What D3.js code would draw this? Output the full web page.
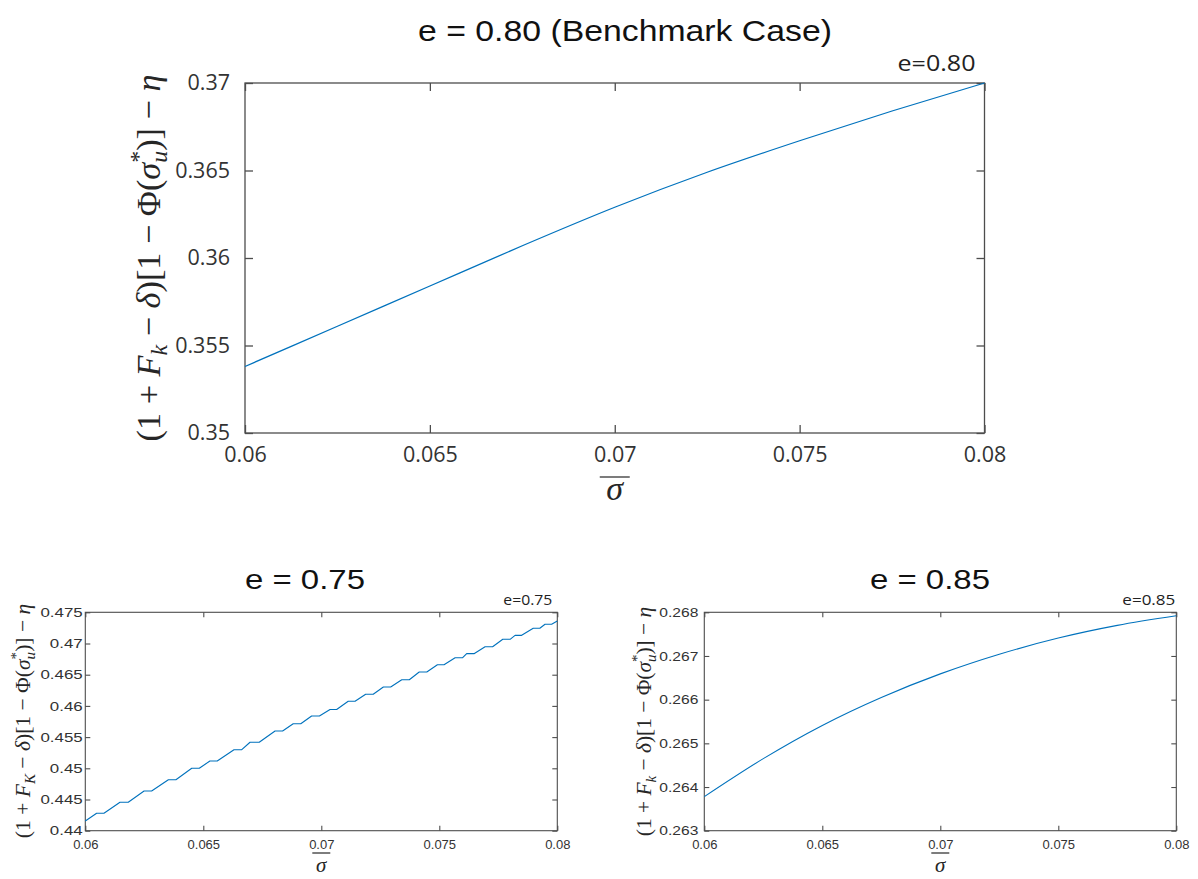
<!DOCTYPE html>
<html>
<head>
<meta charset="utf-8">
<script src="https://cdn.jsdelivr.net/npm/d3@7"></script>
<style>
  body { margin: 0; background: #fff; }
</style>
</head>
<body>
<svg id="fig" width="1198" height="879"></svg>
<script>
// ---- shared horizontal axis (sigma-bar) ----
const xTicks = [0.06, 0.065, 0.07, 0.075, 0.08];
const xTickLabels = ["0.06", "0.065", "0.07", "0.075", "0.08"];

// ---- e = 0.80 (benchmark) ----
const sigma80 = [0.06, 0.0625, 0.065, 0.0675, 0.07, 0.0725, 0.075, 0.0775, 0.08];
const value80 = [0.3538, 0.3561, 0.3584, 0.3607, 0.3629, 0.3649, 0.3667, 0.3684, 0.3700];
const yTicks80 = [0.35, 0.355, 0.36, 0.365, 0.37];
const yTickLabels80 = ["0.35", "0.355", "0.36", "0.365", "0.37"];

// ---- e = 0.75 : the value holds flat on [stepFrom, stepTo], then climbs to the next level ----
const start75 = [0.06, 0.44155];
const stepFrom75 = [0.06048, 0.06147, 0.06249, 0.06352, 0.06451, 0.06528, 0.06630, 0.06698, 0.06804,
                    0.06881, 0.06959, 0.07037, 0.07114, 0.07188, 0.07263, 0.07341, 0.07415, 0.07492,
                    0.07567, 0.07616, 0.07694, 0.07769, 0.07821, 0.07898, 0.07948];
const stepTo75   = [0.06079, 0.06182, 0.06281, 0.06384, 0.06483, 0.06559, 0.06663, 0.06737, 0.06836,
                    0.06913, 0.06992, 0.07065, 0.07143, 0.07220, 0.07294, 0.07373, 0.07447, 0.07520,
                    0.07599, 0.07647, 0.07726, 0.07800, 0.07849, 0.07926, 0.07976];
const stepLevel75 = [0.44279, 0.44455, 0.44636, 0.44817, 0.45000, 0.45117, 0.45298, 0.45417, 0.45598,
                     0.45715, 0.45838, 0.45942, 0.46074, 0.46186, 0.46303, 0.46420, 0.46543, 0.46660,
                     0.46772, 0.46837, 0.46949, 0.47067, 0.47131, 0.47244, 0.47308];
const end75 = [0.08, 0.47361];
const yTicks75 = [0.44, 0.445, 0.45, 0.455, 0.46, 0.465, 0.47, 0.475];
const yTickLabels75 = ["0.44", "0.445", "0.45", "0.455", "0.46", "0.465", "0.47", "0.475"];

// ---- e = 0.85 ----
const sigma85 = [0.06, 0.0625, 0.065, 0.0675, 0.07, 0.0725, 0.075, 0.0775, 0.08];
const value85 = [0.26378, 0.26465, 0.26541, 0.26605, 0.26659, 0.26704, 0.26741, 0.26770, 0.26792];
const yTicks85 = [0.263, 0.264, 0.265, 0.266, 0.267, 0.268];
const yTickLabels85 = ["0.263", "0.264", "0.265", "0.266", "0.267", "0.268"];

const LINE = "#0072BD";
const AXIS = "#4d4d4d";
const TEXT = "#333333";

const svg = d3.select("#fig");

function points(xs, ys) { return xs.map((v, i) => [v, ys[i]]); }

function stepPoints(start, from, to, level, end) {
  const pts = [start];
  from.forEach((f, i) => { pts.push([f, level[i]]); pts.push([to[i], level[i]]); });
  pts.push(end);
  return pts;
}

// stretch a text horizontally about its anchor so that it spans the given width
function fitWidth(sel, anchorX, width) {
  const w = sel.node().getBBox().width;
  const s = width / w;
  sel.attr("transform", `translate(${anchorX},0) scale(${s},1) translate(${-anchorX},0)`);
}

// (1 + F_k − δ)[1 − Φ(σ_u*)] − η, written along a vertical baseline
function yMathLabel(g, sub, baseX, cy, length) {
  const t = g.append("text")
    .attr("transform", `translate(${baseX},${cy}) rotate(-90)`)
    .attr("text-anchor", "middle")
    .attr("fill", "#262626")
    .style("font-family", "'Liberation Serif', 'Times New Roman', serif")
    .style("font-size", "30px");
  const seg = (txt, o = {}) => {
    const s = t.append("tspan").text(txt);
    if (o.it) s.style("font-style", "italic");
    if (o.size) s.style("font-size", o.size);
    if (o.dx != null) s.attr("dx", o.dx);
    if (o.dy != null) s.attr("dy", o.dy);
    return s;
  };
  seg("(1 + ");
  seg("F", { it: 1 });
  seg(sub, { it: 1, size: "0.7em", dy: "0.3em" });
  seg(" − ", { dy: "-0.21em" });
  seg("δ", { it: 1 });
  seg(")[1 − Φ(");
  seg("σ", { it: 1 });
  seg("u", { it: 1, size: "0.7em", dy: "0.3em" });
  seg("*", { size: "0.7em", dx: "-0.5em", dy: "-0.9em" });
  seg(")] − ", { dy: "0.42em" });
  seg("η", { it: 1 });
  const len = t.node().getComputedTextLength();
  t.style("font-size", (30 * length / len) + "px");
}

function sigmaBar(g, cx, baseY, size, barY, barHalf) {
  g.append("text")
    .attr("x", cx).attr("y", baseY)
    .attr("text-anchor", "middle")
    .attr("fill", "#262626")
    .style("font-family", "'Liberation Serif', 'Times New Roman', serif")
    .style("font-style", "italic")
    .style("font-size", size + "px")
    .text("σ");
  g.append("line")
    .attr("x1", cx - barHalf).attr("x2", cx + barHalf)
    .attr("y1", barY).attr("y2", barY)
    .attr("stroke", "#262626").attr("stroke-width", 1.2);
}

function panel(c) {
  const g = svg.append("g");
  const x = d3.scaleLinear().domain([0.06, 0.08]).range([c.left, c.right]);
  const y = d3.scaleLinear().domain(c.yDomain).range([c.bottom, c.top]);

  const styleAxis = (sel, size, sx) => {
    sel.select(".domain").remove();
    sel.selectAll(".tick line").attr("stroke", AXIS).attr("stroke-width", c.sw);
    sel.selectAll(".tick text").attr("fill", TEXT)
      .style("font-family", c.tickFont).style("font-size", size + "px")
      .attr("transform", sx ? `scale(${sx},1)` : null);
  };

  // bottom / left with labels, ticks pointing inward
  g.append("g").attr("transform", `translate(0,${c.bottom})`)
    .call(d3.axisBottom(x).tickValues(xTicks).tickFormat((d, i) => xTickLabels[i])
      .tickSizeInner(-c.tick).tickSizeOuter(0).tickPadding(c.xPad))
    .call(styleAxis, c.xTickSize, c.xTickStretch);
  g.append("g").attr("transform", `translate(${c.left},0)`)
    .call(d3.axisLeft(y).tickValues(c.yTicks).tickFormat((d, i) => c.yTickLabels[i])
      .tickSizeInner(-c.tick).tickSizeOuter(0).tickPadding(c.yPad))
    .call(styleAxis, c.yTickSize, c.yTickStretch);
  // mirrored ticks on top / right
  g.append("g").attr("transform", `translate(0,${c.top})`)
    .call(d3.axisTop(x).tickValues(xTicks).tickFormat("").tickSizeInner(-c.tick).tickSizeOuter(0))
    .call(styleAxis, 1, null);
  g.append("g").attr("transform", `translate(${c.right},0)`)
    .call(d3.axisRight(y).tickValues(c.yTicks).tickFormat("").tickSizeInner(-c.tick).tickSizeOuter(0))
    .call(styleAxis, 1, null);

  g.append("rect")
    .attr("x", c.left).attr("y", c.top)
    .attr("width", c.right - c.left).attr("height", c.bottom - c.top)
    .attr("fill", "none").attr("stroke", AXIS).attr("stroke-width", c.sw);

  g.append("path")
    .datum(c.data)
    .attr("fill", "none")
    .attr("stroke", LINE)
    .attr("stroke-width", c.lw)
    .attr("stroke-linejoin", "round")
    .attr("d", d3.line().x(d => x(d[0])).y(d => y(d[1])).curve(c.curve || d3.curveLinear));

  // title
  const title = g.append("text")
    .attr("x", c.titleX).attr("y", c.titleY)
    .attr("text-anchor", "middle").attr("fill", "#111")
    .style("font-family", "'Liberation Sans', Arial, sans-serif")
    .style("font-size", c.titleSize + "px")
    .text(c.title);
  fitWidth(title, c.titleX, c.titleW);

  // corner tag
  const tagX = c.right - c.tagInset;
  const tag = g.append("text")
    .attr("x", tagX).attr("y", c.top - c.tagGap)
    .attr("text-anchor", "end").attr("fill", "#222")
    .style("font-family", "'Open Sans', sans-serif")
    .style("font-size", c.tagSize + "px")
    .text(c.tag);
  fitWidth(tag, tagX, c.tagW);

  yMathLabel(g, c.sub, c.yLabelX, c.yLabelCY, c.yLabelLen);
  sigmaBar(g, x(0.07), c.sigmaY, c.sigmaSize, c.barY, c.barHalf);
}

panel({
  left: 245, right: 984.5, top: 83, bottom: 433,
  yDomain: [0.35, 0.37], yTicks: yTicks80, yTickLabels: yTickLabels80,
  data: points(sigma80, value80), curve: d3.curveMonotoneX, lw: 1.3,
  tick: 8, sw: 1.3, tickFont: "'Open Sans', sans-serif",
  xTickSize: 21.5, yTickSize: 21.5, xPad: 14, yPad: 15,
  title: "e = 0.80 (Benchmark Case)", titleX: 625, titleY: 41, titleSize: 30, titleW: 414,
  tag: "e=0.80", tagSize: 22, tagGap: 12, tagInset: 9, tagW: 78,
  sub: "k", yLabelX: 160, yLabelCY: 258, yLabelLen: 379,
  sigmaY: 500, sigmaSize: 34, barY: 477, barHalf: 15
});

panel({
  left: 85.3, right: 557.3, top: 612.3, bottom: 830.7,
  yDomain: [0.44, 0.475], yTicks: yTicks75, yTickLabels: yTickLabels75,
  data: stepPoints(start75, stepFrom75, stepTo75, stepLevel75, end75), lw: 1.1,
  tick: 5, sw: 1.1, tickFont: "'Liberation Sans', Arial, sans-serif",
  xTickSize: 13, yTickSize: 13, yTickStretch: 1.3, xPad: 9, yPad: 2,
  title: "e = 0.75", titleX: 305, titleY: 589, titleSize: 27.5, titleW: 120,
  tag: "e=0.75", tagSize: 14, tagGap: 7, tagInset: 5, tagW: 49,
  sub: "K", yLabelX: 30, yLabelCY: 721, yLabelLen: 242,
  sigmaY: 872, sigmaSize: 21, barY: 853, barHalf: 9
});

panel({
  left: 704.3, right: 1176.3, top: 612.3, bottom: 830.7,
  yDomain: [0.263, 0.268], yTicks: yTicks85, yTickLabels: yTickLabels85,
  data: points(sigma85, value85), curve: d3.curveMonotoneX, lw: 1.1,
  tick: 5, sw: 1.1, tickFont: "'Liberation Sans', Arial, sans-serif",
  xTickSize: 13, yTickSize: 13, yTickStretch: 1.2, xPad: 9, yPad: 5,
  title: "e = 0.85", titleX: 930, titleY: 589, titleSize: 27.5, titleW: 120,
  tag: "e=0.85", tagSize: 14, tagGap: 7, tagInset: 1, tagW: 53,
  sub: "k", yLabelX: 651, yLabelCY: 721.5, yLabelLen: 237,
  sigmaY: 872, sigmaSize: 21, barY: 853, barHalf: 9
});
</script>
</body>
</html>
